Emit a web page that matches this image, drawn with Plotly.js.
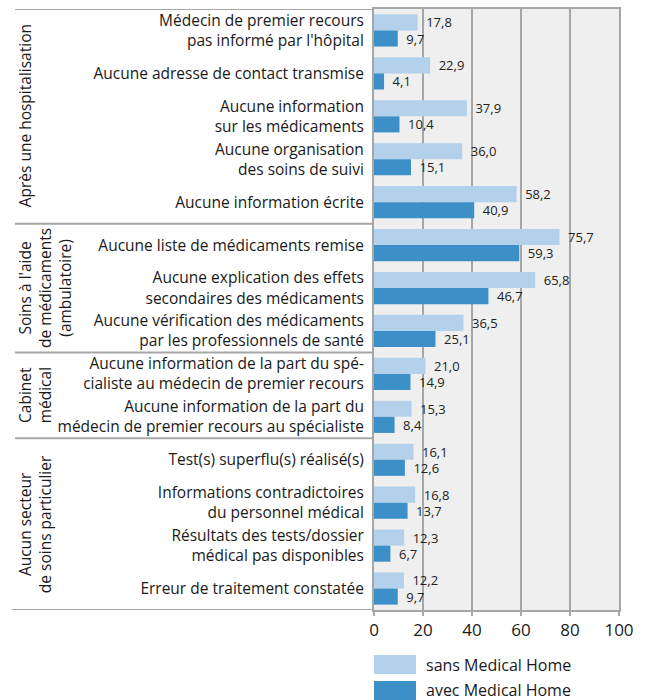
<!DOCTYPE html>
<html>
<head>
<meta charset="utf-8">
<script src="https://cdn.plot.ly/plotly-3.0.1.min.js"></script>
<style>html,body{margin:0;padding:0;background:#fff;}#chart{width:648px;height:700px;}</style>
</head>
<body>
<div id="chart"></div>
<script>
const categories = [
  "Médecin de premier recours<br>pas informé par l'hôpital",
  "Aucune adresse de contact transmise",
  "Aucune information<br>sur les médicaments",
  "Aucune organisation<br>des soins de suivi",
  "Aucune information écrite",
  "Aucune liste de médicaments remise",
  "Aucune explication des effets<br>secondaires des médicaments",
  "Aucune vérification des médicaments<br>par les professionnels de santé",
  "Aucune information de la part du spé-<br>cialiste au médecin de premier recours",
  "Aucune information de la part du<br>médecin de premier recours au spécialiste",
  "Test(s) superflu(s) réalisé(s)",
  "Informations contradictoires<br>du personnel médical",
  "Résultats des tests/dossier<br>médical pas disponibles",
  "Erreur de traitement constatée"
];
const sansMH = [17.8, 22.9, 37.9, 36.0, 58.2, 75.7, 65.8, 36.5, 21.0, 15.3, 16.1, 16.8, 12.3, 12.2];
const avecMH = [9.7, 4.1, 10.4, 15.1, 40.9, 59.3, 46.7, 25.1, 14.9, 8.4, 12.6, 13.7, 6.7, 9.7];
const seriesNames = ["sans Medical Home", "avec Medical Home"];
const groupLabels = ["Après une hospitalisation", "Soins à l'aide<br>de médicaments<br>(ambulatoire)", "Cabinet<br>médical", "Aucun secteur<br>de soins particulier"];
const groupStart = [0, 5, 8, 10];
const groupEnd = [4, 7, 9, 13];
const xTicks = [0, 20, 40, 60, 80, 100];

const colors = ["#b3d1ea", "#3d8fc8"];
const FONT = "Open Sans, DejaVu Sans, sans-serif";
const fmt = v => "\u2009\u00a0" + v.toFixed(1).replace(".", ",");

const traces = [sansMH, avecMH].map((vals, i) => ({
  type: "bar", orientation: "h",
  name: seriesNames[i],
  y: categories, x: vals,
  marker: {color: colors[i], line: {width: 0}},
  text: vals.map(fmt),
  textposition: "outside",
  constraintext: "none",
  cliponaxis: false,
  textfont: {family: FONT, size: 13, color: "#222"},
  hoverinfo: "skip",
  showlegend: false
}));

const plotL = 374, plotR = 619, plotT = 9, plotB = 610;
const pw = plotR - plotL, ph = plotB - plotT;
const px = p => (p - plotL) / pw;
const py = p => (plotB - p) / ph;

const shapes = [];
const annotations = [];
const bounds = [-0.5, 4.5, 7.5, 9.5];
bounds.forEach(b => shapes.push({type: "line", xref: "paper", yref: "y", x0: px(15), x1: 0, y0: b, y1: b, line: {color: "#a6a6a6", width: 2}}));
shapes.push({type: "line", xref: "paper", yref: "y", x0: px(12), x1: 0, y0: 13.5, y1: 13.5, line: {color: "#a6a6a6", width: 2}});

groupLabels.forEach((g, i) => {
  annotations.push({
    text: g, xref: "paper", yref: "y",
    x: px(12), xanchor: "left",
    y: (groupStart[i] + groupEnd[i]) / 2, yanchor: "middle",
    textangle: -90, showarrow: false,
    font: {family: FONT, size: 15.5, color: "#1a1a1a"}, align: "center"
  });
});

const legY = [655, 681];
seriesNames.forEach((n, i) => {
  shapes.push({type: "rect", xref: "paper", yref: "paper", x0: 0, x1: px(416),
    y0: py(legY[i]), y1: py(legY[i] + 19), fillcolor: colors[i], line: {width: 0}});
  annotations.push({text: n, xref: "paper", yref: "paper", x: px(424), xanchor: "left",
    y: py(legY[i] + 9.5), yanchor: "middle", showarrow: false,
    font: {family: FONT, size: 16, color: "#1a1a1a"}});
});

const layout = {
  width: 648, height: 700,
  margin: {l: plotL, r: 648 - plotR, t: plotT, b: 700 - plotB, pad: 0},
  paper_bgcolor: "#ffffff", plot_bgcolor: "#efefef",
  barmode: "group", bargap: 0.25, bargroupgap: 0,
  showlegend: false,
  font: {family: FONT, color: "#1a1a1a"},
  xaxis: {
    range: [0, 100], tickvals: xTicks, ticktext: xTicks.map(String),
    showgrid: true, gridcolor: "#a6a6a6", gridwidth: 2,
    zeroline: false, showline: true, linecolor: "#a6a6a6", linewidth: 2, mirror: true,
    ticks: "outside", ticklen: 4, tickcolor: "#a6a6a6", tickwidth: 2,
    tickfont: {family: FONT, size: 17, color: "#1a1a1a"}, fixedrange: true
  },
  yaxis: {
    categoryorder: "array", categoryarray: categories,
    range: [13.5, -0.5], autorange: false,
    showline: true, linecolor: "#a6a6a6", linewidth: 2, mirror: true,
    ticks: "", showgrid: false, zeroline: false, ticklabelstandoff: 5,
    tickfont: {family: FONT, size: 15.5, color: "#1a1a1a"}, fixedrange: true
  },
  shapes: shapes, annotations: annotations
};

Plotly.newPlot("chart", traces, layout, {displayModeBar: false, staticPlot: true});
</script>
</body>
</html>
